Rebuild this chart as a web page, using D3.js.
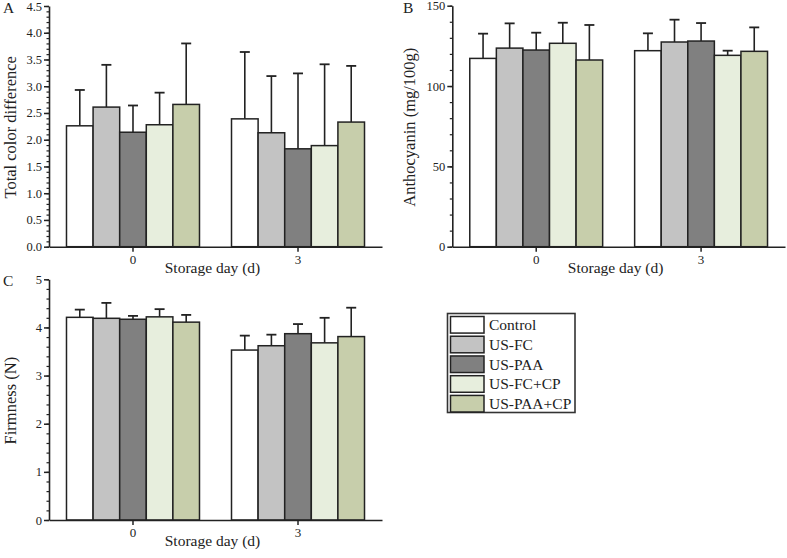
<!DOCTYPE html>
<html><head><meta charset="utf-8">
<script src="https://cdn.jsdelivr.net/npm/d3@7"></script>
<style>
body{margin:0;background:#fff}
svg{display:block}
text{font-family:"Liberation Serif","Times New Roman",serif;fill:#222}
</style>
</head><body>
<svg id="c" width="787" height="558"></svg>
<script>
// ---- data ----
const days = ["0", "3"];
const treatments = ["Control", "US-FC", "US-PAA", "US-FC+CP", "US-PAA+CP"];
const fills = ["#ffffff", "#c3c3c3", "#808080", "#e7eedd", "#c7ceab"];

// Total color difference (mean, SD) — rows: day 0, day 3
const colorMean = [[2.26, 2.61, 2.14, 2.28, 2.66], [2.39, 2.13, 1.83, 1.89, 2.33]];
const colorSD   = [[0.67, 0.79, 0.50, 0.60, 1.14], [1.25, 1.06, 1.41, 1.52, 1.05]];

// Anthocyanin (mg/100g)
const anthoMean = [[117.2, 123.6, 122.4, 126.6, 116.2], [122.0, 127.4, 128.0, 119.1, 121.6]];
const anthoSD   = [[15.4, 15.4, 10.8, 12.8, 21.8], [10.8, 13.9, 11.2, 2.9, 14.9]];

// Firmness (N)
const firmMean = [[4.21, 4.19, 4.17, 4.22, 4.11], [3.53, 3.62, 3.87, 3.68, 3.81]];
const firmSD   = [[0.16, 0.32, 0.07, 0.16, 0.15], [0.30, 0.23, 0.20, 0.52, 0.60]];

const colorTicks = [0, 0.5, 1, 1.5, 2, 2.5, 3, 3.5, 4, 4.5];
const anthoTicks = [0, 50, 100, 150];
const firmTicks = [0, 1, 2, 3, 4, 5];

// ---- drawing ----
const svg = d3.select("#c");
const ink = "#222";

function panel(cfg) {
  const g = svg.append("g");
  const x = d3.scaleBand().domain(days).range([cfg.x0, cfg.x1]).paddingInner(0.194).paddingOuter(0.106);
  const xi = d3.scaleBand().domain(treatments).range([0, x.bandwidth()]);
  const y = d3.scaleLinear().domain([0, cfg.max]).range([cfg.y0, cfg.y1]);

  // bars + error bars
  days.forEach((d, di) => {
    const gg = g.append("g").attr("transform", `translate(${x(d)},0)`);
    treatments.forEach((t, ti) => {
      const m = cfg.mean[di][ti], s = cfg.sd[di][ti];
      const cx = xi(t) + xi.bandwidth() / 2;
      gg.append("line").attr("x1", cx).attr("x2", cx).attr("y1", y(m)).attr("y2", y(m + s))
        .attr("stroke", ink).attr("stroke-width", 1.6);
      gg.append("line").attr("x1", cx - 5).attr("x2", cx + 5).attr("y1", y(m + s)).attr("y2", y(m + s))
        .attr("stroke", ink).attr("stroke-width", 1.8);
      gg.append("rect").attr("x", xi(t)).attr("width", xi.bandwidth())
        .attr("y", y(m)).attr("height", y(0) - y(m))
        .attr("fill", fills[ti]).attr("stroke", ink).attr("stroke-width", 1.5);
    });
  });

  // minor ticks
  const minor = d3.range(0, cfg.max + 1e-9, cfg.minorStep);
  g.append("g").attr("transform", `translate(${cfg.x0},0)`)
    .call(d3.axisLeft(y).tickValues(minor).tickSize(2.5).tickFormat(""))
    .call(a => a.select(".domain").remove())
    .call(a => a.selectAll("line").attr("stroke", ink).attr("stroke-width", 1.2));
  // major y axis
  g.append("g").attr("transform", `translate(${cfg.x0},0)`)
    .call(d3.axisLeft(y).tickValues(cfg.ticks).tickSize(5).tickSizeOuter(0).tickPadding(2).tickFormat(cfg.fmt))
    .call(a => a.select(".domain").attr("stroke", ink).attr("stroke-width", 1.6))
    .call(a => a.selectAll("line").attr("stroke", ink).attr("stroke-width", 1.5))
    .call(a => a.selectAll("text").attr("font-size", 12.5).attr("fill", ink).style("font-family", "Liberation Serif"));
  // x axis
  g.append("g").attr("transform", `translate(0,${cfg.y0})`)
    .call(d3.axisBottom(x).tickSize(5).tickSizeOuter(0).tickPadding(3))
    .call(a => a.select(".domain").attr("stroke", ink).attr("stroke-width", 1.6))
    .call(a => a.selectAll("line").attr("stroke", ink).attr("stroke-width", 1.5))
    .call(a => a.selectAll("text").attr("font-size", 13).attr("fill", ink).style("font-family", "Liberation Serif"));

  // titles
  g.append("text").attr("x", (cfg.x0 + cfg.x1) / 2 - 3).attr("y", cfg.y0 + 26)
    .attr("text-anchor", "middle").attr("font-size", 15.5).text("Storage day (d)");
  g.append("text").attr("transform", `translate(${cfg.ytx},${(cfg.y0 + cfg.y1) / 2 + 1}) rotate(-90)`)
    .attr("text-anchor", "middle").attr("font-size", 16.5).text(cfg.ytitle);
  g.append("text").attr("x", cfg.lx).attr("y", cfg.ly).attr("font-size", 15.5).text(cfg.letter);
}

panel({x0: 49, x1: 382, y0: 246.7, y1: 6, max: 4.5, ticks: colorTicks, minorStep: 0.1, fmt: d3.format(".1f"),
       mean: colorMean, sd: colorSD, ytitle: "Total color difference", ytx: 16, letter: "A", lx: 3, ly: 13});
panel({x0: 452.3, x1: 785, y0: 246.7, y1: 5.7, max: 150, ticks: anthoTicks, minorStep: 10, fmt: d3.format("d"),
       mean: anthoMean, sd: anthoSD, ytitle: "Anthocyanin (mg/100g)", ytx: 415, letter: "B", lx: 403, ly: 13});
panel({x0: 49, x1: 382, y0: 520, y1: 279.3, max: 5, ticks: firmTicks, minorStep: 0.2, fmt: d3.format("d"),
       mean: firmMean, sd: firmSD, ytitle: "Firmness (N)", ytx: 16, letter: "C", lx: 3, ly: 286});

// legend
const lg = svg.append("g");
const ly = d3.scaleBand().domain(treatments).range([316.5, 412]).paddingInner(0.16);
lg.append("rect").attr("x", 447.5).attr("y", 313.5).attr("width", 127.5).attr("height", 99)
  .attr("fill", "#fff").attr("stroke", "#333").attr("stroke-width", 1.6);
treatments.forEach((t, i) => {
  lg.append("rect").attr("x", 450.5).attr("y", ly(t)).attr("width", 33.5).attr("height", ly.bandwidth())
    .attr("fill", fills[i]).attr("stroke", ink).attr("stroke-width", 1.5);
  lg.append("text").attr("x", 489).attr("y", ly(t) + ly.bandwidth() / 2 + 5.5).attr("font-size", 15.5).text(t);
});
</script>
</body></html>
